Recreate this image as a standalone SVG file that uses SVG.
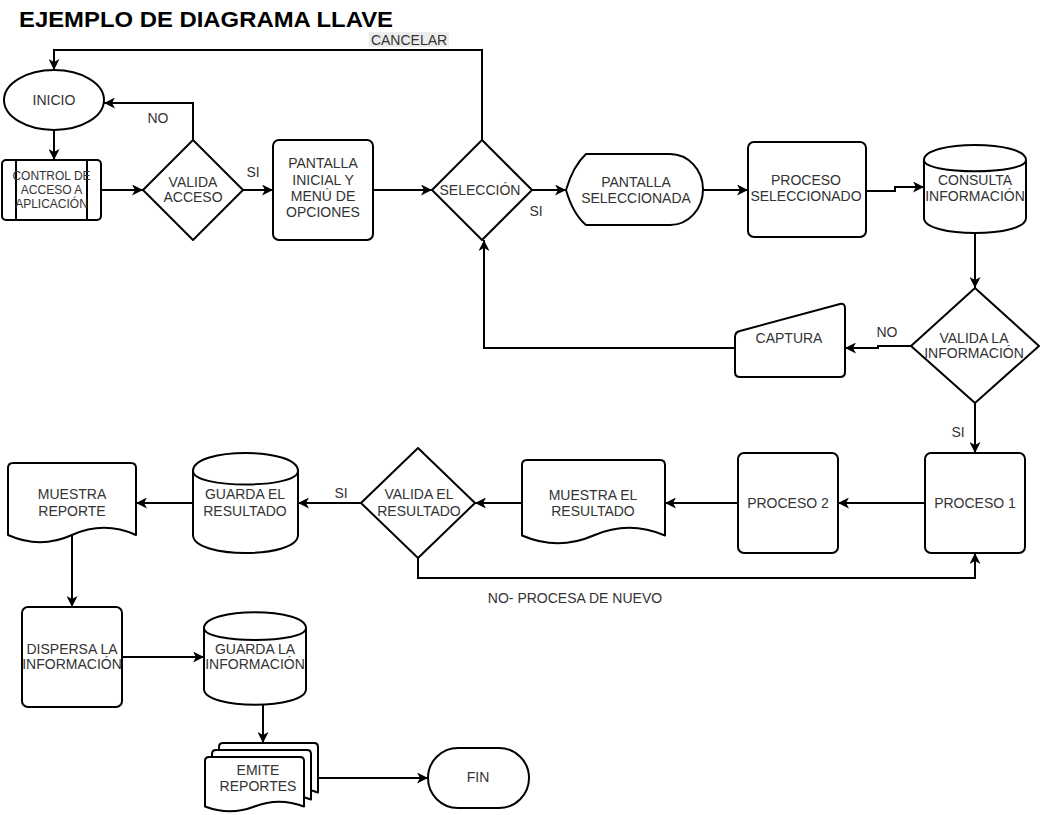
<svg xmlns="http://www.w3.org/2000/svg" width="1040" height="815" viewBox="0 0 1040 815">
<style>
.n{fill:#fff;stroke:#000;stroke-width:2;stroke-linejoin:round}
.l{fill:none;stroke:#000;stroke-width:2;marker-end:url(#ar)}
.ln{fill:none;stroke:#000;stroke-width:2}
.t{font-family:"Liberation Sans",Arial,sans-serif;font-size:14px;fill:#333;text-anchor:middle}
.s{font-size:12px}
.ttl{font-family:"Liberation Sans",Arial,sans-serif;font-size:22px;font-weight:bold;fill:#000}
</style>
<defs>
<marker id="ar" viewBox="0 0 11 11" refX="11" refY="5.5" markerWidth="11" markerHeight="11" markerUnits="userSpaceOnUse" orient="auto">
<path d="M0,0 L11,5.5 L0,11 L3,5.5 Z" fill="#000"/>
</marker>
</defs>
<rect width="1040" height="815" fill="#fff"/>
<text class="ttl" x="19" y="27" textLength="374" lengthAdjust="spacingAndGlyphs">EJEMPLO DE DIAGRAMA LLAVE</text>

<g id="connectors">
<path class="l" d="M482,140 V50 H54 V70"/>
<path class="l" d="M54,130 V160"/>
<path class="l" d="M101,190 H143"/>
<path class="l" d="M193,140 V103 H104"/>
<path class="l" d="M243,190 H273"/>
<path class="l" d="M373,190 H432"/>
<path class="l" d="M532,190 H566"/>
<path class="l" d="M703,190 H748"/>
<path class="l" d="M866,191 H895 V187 H924"/>
<path class="l" d="M975,233 V288"/>
<path class="l" d="M911,346 H878 V348 H845"/>
<path class="l" d="M735,348 H484 V240"/>
<path class="l" d="M975,403 V453"/>
<path class="l" d="M925,503 H838"/>
<path class="l" d="M738,503 H665"/>
<path class="l" d="M522,503 H475"/>
<path class="l" d="M361,503 H298"/>
<path class="l" d="M418,558 V578 H975 V553"/>
<path class="l" d="M193,503 H136"/>
<path class="l" d="M72,535 V607"/>
<path class="l" d="M122,657 H204"/>
<path class="l" d="M263,705 V743"/>
<path class="l" d="M318,778 H428"/>
<rect x="369" y="32" width="80" height="15" fill="#ececec"/>
<text class="t" x="409" y="45">CANCELAR</text>
<text class="t" x="158" y="123">NO</text>
<text class="t" x="253" y="177">SI</text>
<text class="t" x="536" y="216">SI</text>
<text class="t" x="887" y="337">NO</text>
<text class="t" x="958" y="437">SI</text>
<text class="t" x="341" y="498">SI</text>
<text class="t" x="575" y="603">NO- PROCESA DE NUEVO</text>
</g>

<g id="inicio">
<ellipse class="n" cx="54" cy="100" rx="50" ry="30"/>
<text class="t" x="54" y="105">INICIO</text>
</g>

<g id="control">
<rect class="n" x="2" y="160" width="99" height="60" rx="4"/>
<path class="ln" d="M16,160 V220 M87,160 V220"/>
<text class="t s" x="51.5" y="180">CONTROL DE</text>
<text class="t s" x="51.5" y="194">ACCESO A</text>
<text class="t s" x="51.5" y="208">APLICACIÓN</text>
</g>

<g id="valida-acceso">
<path class="n" d="M193,140 L243,190 L193,240 L143,190 Z"/>
<text class="t" x="193" y="187">VALIDA</text>
<text class="t" x="193" y="202">ACCESO</text>
</g>

<g id="pantalla-inicial">
<rect class="n" x="273" y="140" width="100" height="100" rx="6"/>
<text class="t" x="323" y="168">PANTALLA</text>
<text class="t" x="323" y="185">INICIAL Y</text>
<text class="t" x="323" y="201">MENÚ DE</text>
<text class="t" x="323" y="217">OPCIONES</text>
</g>

<g id="seleccion">
<path class="n" d="M482,140 L532,190 L482,240 L432,190 Z"/>
<text class="t" x="480" y="195">SELECCIÓN</text>
</g>

<g id="pantalla-seleccionada">
<path class="n" d="M566,190 Q573,166 586,154 L670,154 A33,35.5 0 0 1 670,225 L586,225 Q573,214 566,190 Z"/>
<text class="t" x="636" y="187">PANTALLA</text>
<text class="t" x="636" y="203">SELECCIONADA</text>
</g>

<g id="proceso-seleccionado">
<rect class="n" x="748" y="142" width="118" height="95" rx="6"/>
<text class="t" x="806" y="185">PROCESO</text>
<text class="t" x="806" y="201">SELECCIONADO</text>
</g>

<g id="consulta">
<path class="n" d="M924,160 C924,140 1026,140 1026,160 L1026,218 C1026,238 924,238 924,218 Z"/>
<path class="ln" d="M924,160 C924,175 1026,175 1026,160"/>
<text class="t" x="975" y="185">CONSULTA</text>
<text class="t" x="975" y="201">INFORMACIÓN</text>
</g>

<g id="valida-informacion">
<path class="n" d="M975,288 L1039,346 L975,403 L911,346 Z"/>
<text class="t" x="974" y="343">VALIDA LA</text>
<text class="t" x="974" y="358">INFORMACIÓN</text>
</g>

<g id="captura">
<path class="n" d="M735,337 Q735,332 740,331 L840,304 Q845,303 845,308 L845,372 Q845,377 840,377 L740,377 Q735,377 735,372 Z"/>
<text class="t" x="789" y="343">CAPTURA</text>
</g>

<g id="proceso-1">
<rect class="n" x="925" y="453" width="100" height="100" rx="6"/>
<text class="t" x="975" y="508">PROCESO 1</text>
</g>

<g id="proceso-2">
<rect class="n" x="738" y="453" width="100" height="100" rx="6"/>
<text class="t" x="788" y="508">PROCESO 2</text>
</g>

<g id="muestra-resultado">
<path class="n" d="M522,535.5 V465 Q522,460 527,460 H660 Q665,460 665,465 V535.5 Q629,520 593.5,535.5 Q558,551 522,535.5 Z"/>
<text class="t" x="593" y="500">MUESTRA EL</text>
<text class="t" x="593" y="516">RESULTADO</text>
</g>

<g id="valida-resultado">
<path class="n" d="M418,448 L475,503 L418,558 L361,503 Z"/>
<text class="t" x="419" y="499">VALIDA EL</text>
<text class="t" x="419" y="516">RESULTADO</text>
</g>

<g id="guarda-resultado">
<path class="n" d="M193,471 C193,447 298,447 298,471 L298,535 C298,559 193,559 193,535 Z"/>
<path class="ln" d="M193,471 C193,489 298,489 298,471"/>
<text class="t" x="245" y="499">GUARDA EL</text>
<text class="t" x="245" y="516">RESULTADO</text>
</g>

<g id="muestra-reporte">
<path class="n" d="M8,535 V468 Q8,463 13,463 H131 Q136,463 136,468 V535 Q104,520.6 72,535 Q40,549.4 8,535 Z"/>
<text class="t" x="72" y="499">MUESTRA</text>
<text class="t" x="72" y="516">REPORTE</text>
</g>

<g id="dispersa">
<rect class="n" x="22" y="607" width="100" height="100" rx="6"/>
<text class="t" x="72" y="654">DISPERSA LA</text>
<text class="t" x="72" y="669">INFORMACIÓN</text>
</g>

<g id="guarda-informacion">
<path class="n" d="M204,628 C204,607 306,607 306,628 L306,689 C306,710 204,710 204,689 Z"/>
<path class="ln" d="M204,628 C204,644 306,644 306,628"/>
<text class="t" x="255" y="654">GUARDA LA</text>
<text class="t" x="255" y="669">INFORMACIÓN</text>
</g>

<g id="emite-reportes">
<path class="n" d="M219,792.5 V747 Q219,743 223,743 H314 Q318,743 318,747 V792.5 Q293,783 268.5,792.5 Q244,802 219,792.5 Z"/>
<path class="n" d="M212,799.5 V754 Q212,750 216,750 H307 Q311,750 311,754 V799.5 Q286,790 261.5,799.5 Q237,809 212,799.5 Z"/>
<path class="n" d="M205,806.5 V761 Q205,757 209,757 H300 Q304,757 304,761 V806.5 Q279,797 254.5,806.5 Q230,816 205,806.5 Z"/>
<text class="t" x="258" y="775">EMITE</text>
<text class="t" x="258" y="791">REPORTES</text>
</g>

<g id="fin">
<rect class="n" x="428" y="748" width="101" height="60" rx="30"/>
<text class="t" x="478" y="782">FIN</text>
</g>
</svg>
